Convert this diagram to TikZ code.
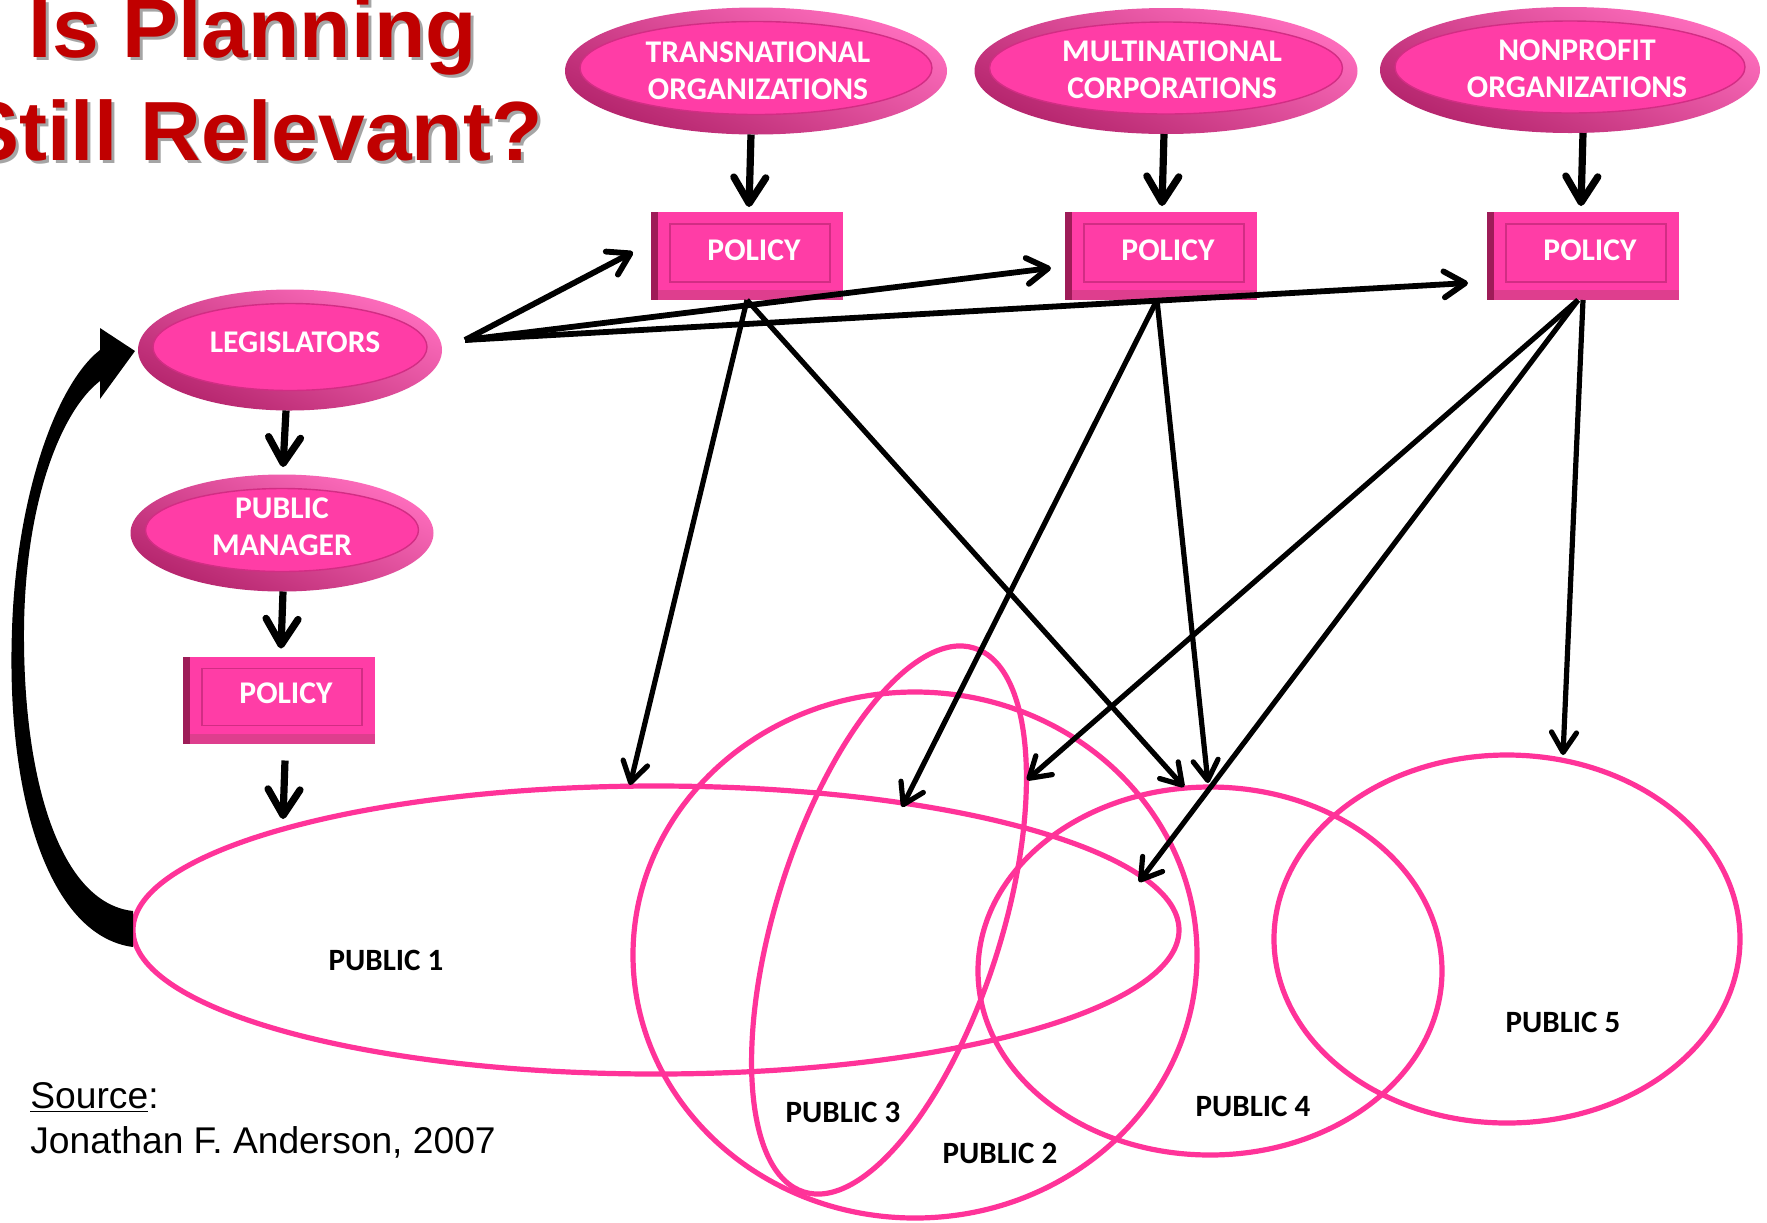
\documentclass[tikz,border=0pt]{standalone}
\usepackage{fontspec}
\setmainfont{Carlito}
\newfontfamily\arialfont{Liberation Sans}
\usetikzlibrary{shapes.geometric,arrows.meta,calc}
\definecolor{pinkmain}{RGB}{255,61,166}
\definecolor{rimlight}{RGB}{255,110,190}
\definecolor{rimdark}{RGB}{180,36,108}
\definecolor{pinkedge}{RGB}{210,45,132}
\definecolor{boxleft}{RGB}{158,28,88}
\definecolor{boxbottom}{RGB}{222,62,142}
\definecolor{publine}{RGB}{255,51,153}
\definecolor{titlered}{RGB}{192,0,0}
\definecolor{shadowgray}{RGB}{165,165,165}
\begin{document}
\begin{tikzpicture}[x=0.5pt,y=-0.5pt,
  pinkell/.style={ellipse, inner sep=0pt, outer sep=0pt,
    top color=rimlight, bottom color=rimdark, shading angle=-25,
    path picture={\path[fill=pinkmain, draw=pinkedge, line width=0.7pt]
      let \p1=(path picture bounding box.south west), \p2=(path picture bounding box.north east)
      in ($(\p1)!0.5!(\p2)+(0pt,1.5pt)$) ellipse [x radius={0.5*\x2-0.5*\x1-7.5pt}, y radius={0.5*\y2-0.5*\y1-8.5pt}];}},
  pinkbox/.style={rectangle, inner sep=0pt, outer sep=0pt, fill=pinkmain,
    minimum width=96pt, minimum height=44pt,
    path picture={
      \fill[boxbottom] (path picture bounding box.south west) rectangle ([yshift=5pt]path picture bounding box.south east);
      \fill[boxleft] (path picture bounding box.south west) rectangle ([xshift=3.5pt]path picture bounding box.north west);
      \draw[pinkedge, line width=0.7pt] ([xshift=9.5pt,yshift=9pt]path picture bounding box.south west) rectangle ([xshift=-6.5pt,yshift=-6pt]path picture bounding box.north east);}},
  nodetext/.style={text=white, font=\fontsize{15.8pt}{18.5pt}\selectfont\bfseries, align=center, inner sep=0pt},
  pubell/.style={ellipse, draw=publine, line width=2.6pt, inner sep=0pt, outer sep=0pt},
  publbl/.style={font=\fontsize{15.5pt}{18pt}\selectfont\bfseries, inner sep=0pt},
  titletext/.style={font=\arialfont\fontsize{42pt}{50pt}\selectfont\bfseries, inner sep=0pt, anchor=base},
  srctext/.style={font=\arialfont\fontsize{18.6pt}{22pt}\selectfont, inner sep=0pt, anchor=base west},
  bigarrow/.style={line width=3.6pt, -{Straight Barb[length=13pt,width=16pt,round]}},
  legarrow/.style={line width=2.9pt, -{Straight Barb[length=10.5pt,width=13pt,round]}},
  thinarrow/.style={line width=2.6pt, -{Straight Barb[length=10pt,width=12.5pt,round]}}
]
\useasboundingbox (0,0) rectangle (1767,1222);
\clip (0,0) rectangle (1767,1222);
\fill[white] (0,0) rectangle (1767,1222);

% title
\node[titletext, text=shadowgray] (ttl1s) at (256,60) {Is Planning};
\node[titletext, text=shadowgray] (ttl2s) at (256,163) {Still Relevant?};
\node[titletext, text=titlered] (ttl1) at (253,57) {Is Planning};
\node[titletext, text=titlered] (ttl2) at (253,160) {Still Relevant?};

% publics
\node[pubell, minimum width=523pt, minimum height=144pt] (p1) at (656,930) {};
\node[pubell, minimum width=282pt, minimum height=263pt] (p2) at (915,955) {};
\node[pubell, minimum width=285pt, minimum height=113pt, rotate=72.6] (p3) at (889,920) {};
\node[pubell, minimum width=232pt, minimum height=184pt] (p4) at (1210,971) {};
\node[pubell, minimum width=233pt, minimum height=184pt] (p5) at (1507,939) {};
\node[publbl] (l1) at (386,960) {PUBLIC 1};
\node[publbl] (l3) at (843,1112) {PUBLIC 3};
\node[publbl] (l2) at (1000,1153) {PUBLIC 2};
\node[publbl] (l4) at (1253,1106) {PUBLIC 4};
\node[publbl] (l5) at (1563,1022) {PUBLIC 5};

% pink nodes
\node[pinkell, minimum width=191pt, minimum height=63.5pt] (trans) at (756,71) {};
\node[pinkell, minimum width=191.5pt, minimum height=63pt] (multi) at (1166,71) {};
\node[pinkell, minimum width=190pt, minimum height=63pt] (np) at (1570,70) {};
\node[pinkell, minimum width=152pt, minimum height=60.5pt] (leg) at (290,350) {};
\node[pinkell, minimum width=151.5pt, minimum height=58.5pt] (pm) at (282,533) {};
\node[pinkbox] (pol1) at (747,256) {};
\node[pinkbox] (pol2) at (1161,256) {};
\node[pinkbox] (pol3) at (1583,256) {};
\node[pinkbox, minimum height=43.5pt] (pol4) at (279,700) {};

\node[nodetext] (transt) at ([xshift=1pt]trans.center) {TRANSNATIONAL\\ORGANIZATIONS};
\node[nodetext] (multit) at ([xshift=3pt,yshift=0.5pt]multi.center) {MULTINATIONAL\\CORPORATIONS};
\node[nodetext] (npt) at ([xshift=3.5pt,yshift=0.5pt]np.center) {NONPROFIT\\ORGANIZATIONS};
\node[nodetext] (legt) at ([xshift=2.5pt,yshift=4pt]leg.center) {LEGISLATORS};
\node[nodetext] (pmt) at ([yshift=3.25pt]pm.center) {PUBLIC\\MANAGER};
\node[nodetext] (pol1t) at ([xshift=3.5pt,yshift=3pt]pol1.center) {POLICY};
\node[nodetext] (pol2t) at ([xshift=3.5pt,yshift=3pt]pol2.center) {POLICY};
\node[nodetext] (pol3t) at ([xshift=3.5pt,yshift=3pt]pol3.center) {POLICY};
\node[nodetext] (pol4t) at ([xshift=3.5pt,yshift=3.5pt]pol4.center) {POLICY};

% arrow end points
\coordinate (legout) at (465,340);
\coordinate (tA) at (633,252);
\coordinate (tB) at (1051,268);
\coordinate (tC) at (1468,283);
\coordinate (t1a) at (630,785);
\coordinate (t1b) at (1184,787);
\coordinate (t2a) at (902,807);
\coordinate (t2b) at (1208,783);
\coordinate (t3a) at (1027,780);
\coordinate (t3b) at (1139,882);
\coordinate (t3c) at (1563,755);
\coordinate (t4) at (283,819);

% short thick arrows
\draw[bigarrow] ([xshift=-2.5pt]trans.south) -- ([xshift=1pt,yshift=2.5pt]pol1.north);
\draw[bigarrow] ([xshift=-1pt]multi.south) -- ([xshift=0.5pt,yshift=3pt]pol2.north);
\draw[bigarrow] ([xshift=6.5pt]np.south) -- ([xshift=-1pt,yshift=3pt]pol3.north);
\draw[bigarrow] ([xshift=-2pt]leg.south) -- ([xshift=0.5pt,yshift=3.75pt]pm.north);
\draw[bigarrow] ([xshift=0.5pt]pm.south) -- ([xshift=1pt,yshift=4pt]pol4.north);
\draw[bigarrow] ([xshift=3pt,yshift=-8.5pt]pol4.south) -- (t4);

% legislators to policies
\draw[legarrow] (legout) -- (tA);
\draw[legarrow] (legout) -- (tB);
\draw[legarrow] (legout) -- (tC);

% policies to publics
\draw[thinarrow] (pol1.south) -- (t1a);
\draw[thinarrow] (pol1.south) -- (t1b);
\draw[thinarrow] ([xshift=-2pt]pol2.south) -- (t2a);
\draw[thinarrow] ([xshift=-2pt]pol2.south) -- (t2b);
\draw[thinarrow] ([xshift=-2.5pt]pol3.south) -- (t3a);
\draw[thinarrow] ([xshift=-2.5pt]pol3.south) -- (t3b);
\draw[thinarrow] (pol3.south) -- (t3c);

% feedback arrow from Public 1 to Legislators
\fill[black] (133,947) .. controls (50,936) and (6,800) .. (12,630)
  .. controls (16,500) and (55,385) .. (100,350) -- (100,328) -- (135,351) -- (100,399) -- (100,381)
  .. controls (62,410) and (25,500) .. (24,630)
  .. controls (23,780) and (60,903) .. (133,911) -- cycle;

% source
\node[srctext] (src1) at (30,1108) {\underline{Source}:};
\node[srctext] (src2) at (30,1153) {Jonathan F. Anderson, 2007};
\end{tikzpicture}
\end{document}
